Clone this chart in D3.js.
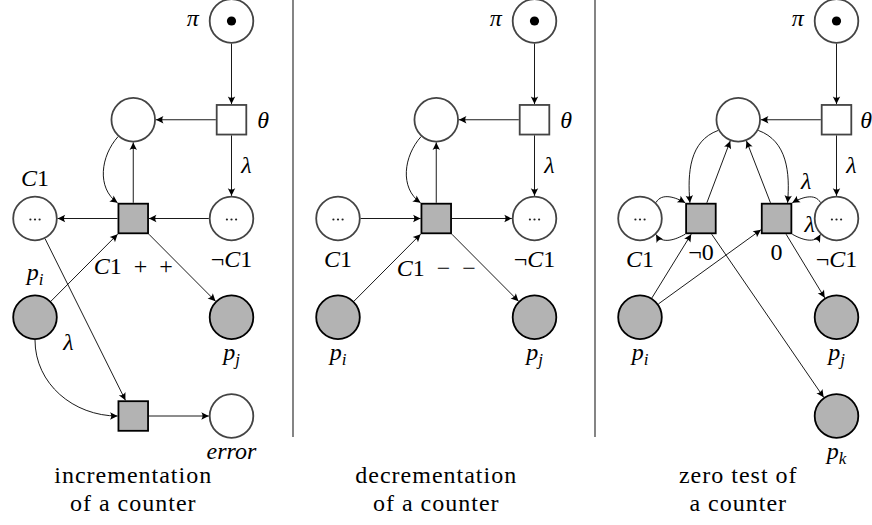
<!DOCTYPE html>
<html>
<head>
<meta charset="utf-8">
<script src="https://cdn.jsdelivr.net/npm/d3@7"></script>
<style>
  svg text, svg tspan { font-family: "Liberation Serif", serif !important; }
</style>
</head>
<body style="margin:0;background:#fff">
<svg id="chart" width="872" height="525"></svg>
<script>
// ---- data: three small petri nets, nodes on a col/row grid ----
// place kinds: run = start place with token, blank = empty, count = counter, state = grey
const incPlaces = [
  { id: "pi", col: 2, row: 0, kind: "run" },
  { id: "e", col: 1, row: 1, kind: "blank" },
  { id: "c", col: 0, row: 2, kind: "count" },
  { id: "nc", col: 2, row: 2, kind: "count" },
  { id: "pI", col: 0, row: 3, kind: "state" },
  { id: "pJ", col: 2, row: 3, kind: "state" },
  { id: "err", col: 2, row: 4, kind: "blank" },
];
const incTransitions = [
  { id: "th", col: 2, row: 1, grey: false },
  { id: "t", col: 1, row: 2, grey: true },
  { id: "t2", col: 1, row: 4, grey: true },
];
const incArcs = [
  { from: "pi", to: "th" },
  { from: "th", to: "e" },
  { from: "th", to: "nc", label: "*λ*", side: 1 },
  { from: "e", to: "t", out: 228, in: 145, inAt: 135 },
  { from: "t", to: "e" },
  { from: "nc", to: "t" },
  { from: "t", to: "c" },
  { from: "pI", to: "t" },
  { from: "t", to: "pJ" },
  { from: "c", to: "t2" },
  { from: "pI", to: "t2", out: 270, in: 180 },
  { from: "t2", to: "err" },
];
const incLabels = [
  { at: "pi", text: "*π*", angle: 180 },
  { at: "th", text: "*θ*", angle: 0 },
  { at: "c", text: "*C*1", angle: 90 },
  { at: "nc", text: "¬*C*1", angle: -90 },
  { at: "pI", text: "*p*_i", angle: 90 },
  { at: "pJ", text: "*p*_j", angle: -90 },
  { at: "t", text: "*C*1\u2002+\u2002+", angle: -90, gap: 24 },
  { at: "pI", text: "*λ*", angle: -30 },
  { at: "err", text: "*error*", angle: -90 },
];
const incCaption = ["incrementation", "of a counter"];

const decPlaces = [
  { id: "pi", col: 2, row: 0, kind: "run" },
  { id: "e", col: 1, row: 1, kind: "blank" },
  { id: "c", col: 0, row: 2, kind: "count" },
  { id: "nc", col: 2, row: 2, kind: "count" },
  { id: "pI", col: 0, row: 3, kind: "state" },
  { id: "pJ", col: 2, row: 3, kind: "state" },
];
const decTransitions = [
  { id: "th", col: 2, row: 1, grey: false },
  { id: "t", col: 1, row: 2, grey: true },
];
const decArcs = [
  { from: "pi", to: "th" },
  { from: "th", to: "e" },
  { from: "th", to: "nc", label: "*λ*", side: 1 },
  { from: "e", to: "t", out: 228, in: 145, inAt: 135 },
  { from: "t", to: "e" },
  { from: "c", to: "t" },
  { from: "t", to: "nc" },
  { from: "pI", to: "t" },
  { from: "t", to: "pJ" },
];
const decLabels = [
  { at: "pi", text: "*π*", angle: 180 },
  { at: "th", text: "*θ*", angle: 0 },
  { at: "c", text: "*C*1", angle: -90 },
  { at: "nc", text: "¬*C*1", angle: -90 },
  { at: "pI", text: "*p*_i", angle: -90 },
  { at: "pJ", text: "*p*_j", angle: -90 },
  { at: "t", text: "*C*1\u2002−\u2002−", angle: -90, gap: 26 },
];
const decCaption = ["decrementation", "of a counter"];

const zeroPlaces = [
  { id: "pi", col: 2, row: 0, kind: "run" },
  { id: "e", col: 1, row: 1, kind: "blank" },
  { id: "c", col: 0, row: 2, kind: "count" },
  { id: "nc", col: 2, row: 2, kind: "count" },
  { id: "pI", col: 0, row: 3, kind: "state" },
  { id: "pJ", col: 2, row: 3, kind: "state" },
  { id: "pK", col: 2, row: 4, kind: "state" },
];
const zeroTransitions = [
  { id: "th", col: 2, row: 1, grey: false },
  { id: "tn", col: 0.62, row: 2, grey: true },
  { id: "tz", col: 1.39, row: 2, grey: true },
];
const zeroArcs = [
  { from: "pi", to: "th" },
  { from: "th", to: "e" },
  { from: "th", to: "nc", label: "*λ*", side: 1 },
  { from: "e", to: "tn", out: 200, outAt: 208, in: 95, inAt: 125 },
  { from: "tn", to: "e" },
  { from: "e", to: "tz", out: -20, outAt: -28, in: 85, inAt: 55 },
  { from: "tz", to: "e" },
  { from: "c", to: "tn", out: 60, outAt: 45, in: 150, inAt: 135 },
  { from: "tn", to: "c", out: 210, outAt: 225, in: 300, inAt: 315 },
  { from: "nc", to: "tz", out: 120, outAt: 135, in: 30, inAt: 45, label: "*λ*", side: -1 },
  { from: "tz", to: "nc", out: -30, outAt: -45, in: 240, inAt: 225, label: "*λ*", side: 1 },
  { from: "pI", to: "tn" },
  { from: "pI", to: "tz" },
  { from: "tn", to: "pK" },
  { from: "tz", to: "pJ" },
];
const zeroLabels = [
  { at: "pi", text: "*π*", angle: 180 },
  { at: "th", text: "*θ*", angle: 0, gap: 8 },
  { at: "c", text: "*C*1", angle: -90 },
  { at: "nc", text: "¬*C*1", angle: -90 },
  { at: "tn", text: "¬0", angle: -90 },
  { at: "tz", text: "0", angle: -90 },
  { at: "pI", text: "*p*_i", angle: -90 },
  { at: "pJ", text: "*p*_j", angle: -90 },
  { at: "pK", text: "*p*_k", angle: -90 },
];
const zeroCaption = ["zero test of", "a counter"];

const panels = [
  { places: incPlaces, transitions: incTransitions, arcs: incArcs, labels: incLabels, caption: incCaption },
  { places: decPlaces, transitions: decTransitions, arcs: decArcs, labels: decLabels, caption: decCaption },
  { places: zeroPlaces, transitions: zeroTransitions, arcs: zeroArcs, labels: zeroLabels, caption: zeroCaption },
];

// ---- layout ----
const panelLeft = [35, 338, 640];
const R = 21.8, R_OUT = 22.7;        // place radius
const HALF = 14.8, HALF_OUT = 15.7;  // transition half side
const GREY = "#b3b3b3";
const FONT = '"Liberation Serif"';

const svg = d3.select("#chart");
const y = d3.scaleLinear().domain([0, 4]).range([21, 416]);

svg.append("defs").append("marker")
  .attr("id", "tip")
  .attr("viewBox", "-9 -5 10 10")
  .attr("refX", 0).attr("refY", 0)
  .attr("markerWidth", 10).attr("markerHeight", 10)
  .attr("markerUnits", "userSpaceOnUse")
  .attr("orient", "auto")
  .append("path")
  .attr("d", "M0,0 L-7.5,-3.7 Q-5,0 -7.5,3.7 Z")
  .attr("fill", "#000");

// separators
panelLeft.slice(1).forEach((x0) => {
  svg.append("line")
    .attr("x1", x0 - 45).attr("x2", x0 - 45)
    .attr("y1", 0).attr("y2", 437)
    .attr("stroke", "#333").attr("stroke-width", 1.2);
});

const rad = (a) => (a * Math.PI) / 180;
const dirv = (a) => [Math.cos(rad(a)), -Math.sin(rad(a))];

function boundary(n, a) {
  const [dx, dy] = dirv(a);
  const s = n.shape === "circle" ? R_OUT : HALF_OUT / Math.max(Math.abs(dx), Math.abs(dy));
  return [n.x + dx * s, n.y + dy * s];
}

// text with *italic* parts and _x subscripts
function richText(sel, str) {
  sel.style("font-family", FONT).style("font-size", "24px");
  const re = /\*([^*]+)\*|_(\w)|([^*_]+)/g;
  let m, shifted = false;
  while ((m = re.exec(str)) !== null) {
    const ts = sel.append("tspan");
    if (m[1]) ts.text(m[1]).style("font-style", "italic");
    else if (m[2]) {
      ts.text(m[2]).style("font-style", "italic").style("font-size", "17px").attr("dy", 5);
      shifted = true;
    } else {
      ts.text(m[3]);
      if (shifted) { ts.attr("dy", -5); shifted = false; }
    }
  }
}

panels.forEach((panel, pi) => {
  const x = d3.scaleLinear().domain([0, 2]).range([panelLeft[pi], panelLeft[pi] + 196.5]);
  const g = svg.append("g");

  const nodes = new Map();
  panel.places.forEach((d) => nodes.set(d.id, Object.assign({}, d, { x: x(d.col), y: y(d.row), shape: "circle" })));
  panel.transitions.forEach((d) => nodes.set(d.id, Object.assign({}, d, { x: x(d.col), y: y(d.row), shape: "square" })));

  // places
  const pl = g.selectAll(".place")
    .data(panel.places.map((d) => nodes.get(d.id)))
    .enter().append("g").attr("class", "place")
    .attr("transform", (d) => `translate(${d.x},${d.y})`);
  pl.append("circle")
    .attr("r", R)
    .attr("fill", (d) => (d.kind === "state" ? GREY : "#fff"))
    .attr("stroke", (d) => (d.kind === "state" ? "#000" : "#444"))
    .attr("stroke-width", 1.8);
  pl.filter((d) => d.kind === "run").append("circle").attr("r", 4.6).attr("fill", "#000");
  pl.filter((d) => d.kind === "count").selectAll(".dot")
    .data([-4.6, 0, 4.6]).enter().append("circle")
    .attr("cx", (d) => d).attr("cy", 1).attr("r", 1.1).attr("fill", "#222");

  // transitions
  g.selectAll(".trans")
    .data(panel.transitions.map((d) => nodes.get(d.id)))
    .enter().append("rect").attr("class", "trans")
    .attr("x", (d) => d.x - HALF).attr("y", (d) => d.y - HALF)
    .attr("width", HALF * 2).attr("height", HALF * 2)
    .attr("fill", (d) => (d.grey ? GREY : "#fff"))
    .attr("stroke", (d) => (d.grey ? "#000" : "#444"))
    .attr("stroke-width", 1.8);

  // arcs
  panel.arcs.forEach((arc) => {
    const a = nodes.get(arc.from), b = nodes.get(arc.to);
    const path = d3.path();
    let mid, tan;
    if (arc.out === undefined) {
      const ang = (Math.atan2(-(b.y - a.y), b.x - a.x) * 180) / Math.PI;
      const p0 = boundary(a, ang), p3 = boundary(b, ang + 180);
      path.moveTo(p0[0], p0[1]);
      path.lineTo(p3[0], p3[1]);
      mid = [(p0[0] + p3[0]) / 2, (p0[1] + p3[1]) / 2];
      tan = [p3[0] - p0[0], p3[1] - p0[1]];
    } else {
      const oa = arc.outAt !== undefined ? arc.outAt : arc.out;
      const ia = arc.inAt !== undefined ? arc.inAt : arc.in;
      const p0 = boundary(a, oa), p3 = boundary(b, ia);
      const L = 0.3915 * Math.hypot(p3[0] - p0[0], p3[1] - p0[1]);
      const o = dirv(arc.out), i = dirv(arc.in);
      const p1 = [p0[0] + o[0] * L, p0[1] + o[1] * L];
      const p2 = [p3[0] + i[0] * L, p3[1] + i[1] * L];
      path.moveTo(p0[0], p0[1]);
      path.bezierCurveTo(p1[0], p1[1], p2[0], p2[1], p3[0], p3[1]);
      mid = [0, 1].map((k) => 0.125 * p0[k] + 0.375 * p1[k] + 0.375 * p2[k] + 0.125 * p3[k]);
      tan = [0, 1].map((k) => p3[k] + p2[k] - p1[k] - p0[k]);
    }
    g.append("path")
      .attr("d", path.toString())
      .attr("fill", "none")
      .attr("stroke", "#000")
      .attr("stroke-width", 0.9)
      .attr("marker-end", "url(#tip)");
    if (arc.label) {
      const len = Math.hypot(tan[0], tan[1]);
      const nx = (arc.side * tan[1]) / len, ny = (-arc.side * tan[0]) / len;
      const t = g.append("text").attr("text-anchor", "middle")
        .attr("x", mid[0] + nx * 15).attr("y", mid[1] + ny * 15 + 7);
      richText(t, arc.label);
    }
  });

  // node labels, placed like tikz "label=angle:text"
  panel.labels.forEach((lb) => {
    const n = nodes.get(lb.at);
    const plain = lb.text.replace(/[*_]/g, "");
    const asc = /[A-Z0-9¬λθ]/.test(plain) ? 16 : 10;
    const desc = /p/.test(plain) ? 5 : 0;
    const h = asc + desc;
    const [dx, dy] = dirv(lb.angle);
    const p = boundary(n, lb.angle);
    const gap = lb.gap !== undefined ? lb.gap : 10;
    const anchor = dx > 0.3 ? "start" : dx < -0.3 ? "end" : "middle";
    const vy = Math.max(-1, Math.min(1, dy * 2));
    const cy = p[1] + dy * gap + vy * (h / 2);
    const t = g.append("text")
      .attr("text-anchor", anchor)
      .attr("x", p[0] + dx * gap)
      .attr("y", cy + (asc - desc) / 2);
    richText(t, lb.text);
  });

  // caption
  panel.caption.forEach((line, i) => {
    g.append("text")
      .style("font-family", FONT)
      .style("font-size", "24px")
      .style("letter-spacing", "1px")
      .attr("text-anchor", "middle")
      .attr("x", x(1))
      .attr("y", y(4) + 67 + i * 28)
      .text(line);
  });
});
</script>
</body>
</html>
